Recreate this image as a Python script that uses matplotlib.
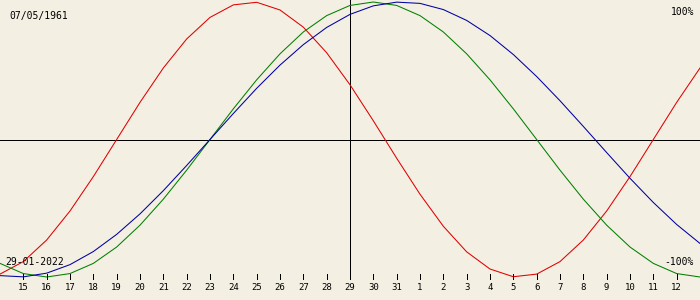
import matplotlib
matplotlib.use("Agg")
import matplotlib.pyplot as plt

# ---- data ----
birth_label = "07/05/1961"
date_label = "29-01-2022"
top_label = "100%"
bottom_label = "-100%"

# day offsets relative to 29-01-2022 (centre line)
day_offsets = list(range(-15, 16))
# tick labels for offsets -14 .. 14
tick_offsets = list(range(-14, 15))
tick_labels = ["15", "16", "17", "18", "19", "20", "21", "22", "23", "24", "25",
               "26", "27", "28", "29", "30", "31", "1", "2", "3", "4", "5", "6",
               "7", "8", "9", "10", "11", "12"]

physical = [-0.979, -0.888, -0.731, -0.520, -0.270, 0.000, 0.270, 0.520, 0.731,
            0.888, 0.979, 0.998, 0.942, 0.817, 0.631, 0.398, 0.136, -0.136,
            -0.398, -0.631, -0.817, -0.942, -0.998, -0.979, -0.888, -0.731,
            -0.520, -0.270, 0.000, 0.270, 0.520]
emotional = [-0.901, -0.975, -1.000, -0.975, -0.901, -0.782, -0.623, -0.434,
             -0.223, 0.000, 0.223, 0.434, 0.623, 0.782, 0.901, 0.975, 1.000,
             0.975, 0.901, 0.782, 0.623, 0.434, 0.223, 0.000, -0.223, -0.434,
             -0.623, -0.782, -0.901, -0.975, -1.000]
intellectual = [-0.990, -0.999, -0.972, -0.910, -0.815, -0.690, -0.541, -0.372,
                -0.189, 0.000, 0.189, 0.372, 0.541, 0.690, 0.815, 0.910, 0.972,
                0.999, 0.990, 0.945, 0.866, 0.756, 0.618, 0.458, 0.282, 0.095,
                -0.095, -0.282, -0.458, -0.618, -0.756]

# ---- layout ----
W, H = 700, 300
ZERO_PX, AMP_PX = 139.5, 137.5
BG = "#F3EFE3"
LW = 0.6
CURVE_LW = 0.75


def py(y_pixel):
    """pixel row -> value coordinate"""
    return (ZERO_PX - y_pixel) / AMP_PX


def px(x_pixel):
    """pixel column -> day offset coordinate"""
    return -15 + x_pixel / W * 30


fig = plt.figure(figsize=(W / 100, H / 100), dpi=100, facecolor=BG)
ax = fig.add_axes([0, 0, 1, 1])
ax.set_facecolor(BG)
ax.set_xlim(-15, 15)
ax.set_ylim(py(H), py(0))
ax.axis("off")

# reference lines
ax.axhline(0, color="black", lw=LW, antialiased=False)
ax.vlines(0, py(278), py(0), color="black", lw=LW, antialiased=False)

# curves
ax.plot(day_offsets, physical, color="#E00000", lw=CURVE_LW)
ax.plot(day_offsets, emotional, color="#008000", lw=CURVE_LW)
ax.plot(day_offsets, intellectual, color="#0000A0", lw=CURVE_LW)

# day ticks and labels
ax.vlines(tick_offsets, py(279), py(274), color="black", lw=LW, antialiased=False)
mono = "DejaVu Sans Mono"
for off, lab in zip(tick_offsets, tick_labels):
    ax.text(off, py(288), lab, ha="center", va="center", fontsize=6.5,
            family=mono, color="black")

# corner texts
ax.text(px(9), py(16.5), birth_label, ha="left", va="center",
        fontsize=7, family=mono, color="black")
ax.text(px(5), py(262), date_label, ha="left", va="center",
        fontsize=7, family=mono, color="black")
ax.text(px(694), py(12), top_label, ha="right", va="center",
        fontsize=7, family=mono, color="black")
ax.text(px(694), py(262), bottom_label, ha="right", va="center",
        fontsize=7, family=mono, color="black")

fig.savefig("out.png", dpi=100, facecolor=BG)
